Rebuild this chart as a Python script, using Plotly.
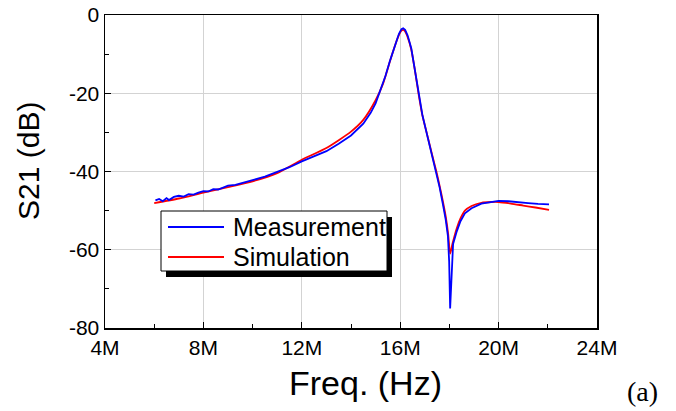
import plotly.graph_objects as go

# Frequency in MHz, S21 in dB
meas_f = [6.05, 6.2, 6.35, 6.5, 6.6, 6.8, 7.0, 7.2, 7.4, 7.6, 7.8, 8.0, 8.2, 8.4, 8.6, 8.8,
          9.0, 9.3, 9.6, 10.0, 10.5, 11.0, 11.5, 12.0, 12.5, 13.0, 13.5, 14.0, 14.5, 14.8,
          15.0, 15.2, 15.4, 15.6, 15.8, 15.95, 16.05, 16.12, 16.2, 16.3, 16.45, 16.6, 16.75,
          16.9, 17.1, 17.3, 17.47, 17.6, 17.74, 17.85, 17.94, 17.99, 18.03, 18.08, 18.15,
          18.3, 18.45, 18.63, 18.9, 19.3, 19.7, 20.0, 20.4, 20.8, 21.2, 21.6, 22.05]
meas_db = [-47.4, -47.0, -47.6, -46.8, -47.3, -46.5, -46.2, -46.4, -45.8, -45.9, -45.4, -45.0,
           -45.1, -44.5, -44.6, -44.1, -43.6, -43.4, -42.8, -42.2, -41.3, -40.2, -38.9, -37.4,
           -36.1, -34.8, -32.9, -30.8, -27.8, -25.0, -22.6, -19.3, -15.6, -11.4, -7.3, -4.8,
           -3.6, -3.4, -3.8, -5.2, -8.5, -14.0, -20.2, -25.5, -30.8, -36.0, -40.3, -44.0,
           -48.5, -52.3, -56.5, -63.0, -75.0, -66.0, -58.5, -55.3, -52.7, -50.7, -49.4,
           -48.2, -47.8, -47.5, -47.6, -47.9, -48.1, -48.3, -48.4]

sim_f = [6.0, 7.0, 8.0, 9.0, 10.0, 11.0, 12.0, 13.0, 14.0, 14.5, 15.0, 15.3, 15.6, 15.8,
         15.95, 16.05, 16.12, 16.2, 16.3, 16.45, 16.6, 16.75, 16.9, 17.1, 17.3, 17.47, 17.6,
         17.74, 17.85, 17.95, 18.03, 18.12, 18.3, 18.45, 18.63, 18.9, 19.3, 19.7, 20.0,
         20.5, 21.0, 21.5, 22.05]
sim_db = [-48.1, -46.9, -45.4, -44.0, -42.5, -40.4, -37.0, -34.0, -29.8, -26.8, -21.8, -17.6,
          -11.5, -7.6, -5.1, -4.0, -3.8, -4.2, -5.6, -8.8, -14.2, -20.3, -25.6, -30.7,
          -35.8, -40.0, -43.6, -47.8, -51.5, -56.0, -61.0, -58.6, -54.5, -52.0, -50.0,
          -48.8, -48.0, -47.8, -47.8, -48.2, -48.7, -49.2, -49.8]

x_ticks = [4, 8, 12, 16, 20, 24]
x_ticktext = ["4M", "8M", "12M", "16M", "20M", "24M"]
y_ticks = [0, -20, -40, -60, -80]
y_ticktext = ["0", "-20", "-40", "-60", "-80"]

series_names = ["Measurement", "Simulation"]
series_colors = ["#0000FF", "#FF0000"]

# plot area in screen pixels
L, R, T, B = 105, 597, 15, 328
W, H = R - L, B - T


def px(x):
    return (x - L) / W


def py(y):
    return (B - y) / H


fig = go.Figure()
fig.add_trace(go.Scatter(x=sim_f, y=sim_db, mode="lines", name=series_names[1],
                         line=dict(color=series_colors[1], width=1.8, shape="spline", smoothing=0.6)))
fig.add_trace(go.Scatter(x=meas_f, y=meas_db, mode="lines", name=series_names[0],
                         line=dict(color=series_colors[0], width=1.8)))

axis_common = dict(showline=True, linecolor="black", linewidth=1.5, mirror=True,
                   ticks="inside", tickcolor="black", ticklen=6, tickwidth=1,
                   showgrid=True, gridcolor="#d3d3d3", gridwidth=1, zeroline=False,
                   automargin=False, ticklabeloverflow="allow",
                   tickfont=dict(family="Arial, Liberation Sans", size=21, color="black"))

fig.update_xaxes(range=[4, 24], tickvals=x_ticks, ticktext=x_ticktext,
                 minor=dict(ticks="inside", dtick=2, tick0=4, ticklen=4, tickcolor="black", showgrid=False),
                 **axis_common)
fig.update_yaxes(range=[-80, 0], tickvals=y_ticks, ticktext=y_ticktext,
                 minor=dict(ticks="inside", dtick=10, tick0=0, ticklen=4, tickcolor="black", showgrid=False),
                 ticklabelstandoff=0, **axis_common)

# hand-drawn legend box with drop shadow
shapes = [
    dict(type="rect", xref="paper", yref="paper", x0=px(166), x1=px(392), y0=py(277), y1=py(217),
         fillcolor="black", line=dict(width=0), layer="above"),
    dict(type="rect", xref="paper", yref="paper", x0=px(161), x1=px(387), y0=py(271), y1=py(211),
         fillcolor="white", line=dict(color="black", width=1), layer="above"),
]
annotations = []
for i, (nm, col) in enumerate(zip(series_names, series_colors)):
    yy = 227 + 30 * i
    shapes.append(dict(type="line", xref="paper", yref="paper", x0=px(168), x1=px(224),
                       y0=py(yy), y1=py(yy), line=dict(color=col, width=1.8), layer="above"))
    annotations.append(dict(text=nm, x=px(231), y=py(yy), xref="paper", yref="paper",
                            xanchor="left", yanchor="middle", showarrow=False,
                            font=dict(size=25, family="Arial, Liberation Sans", color="black")))

annotations += [
    dict(text="Freq. (Hz)", x=px(365), y=py(383), xref="paper", yref="paper", showarrow=False,
         xanchor="center", yanchor="middle", font=dict(size=34, family="Arial, Liberation Sans")),
    dict(text="S21 (dB)", x=px(29), y=py(161), xref="paper", yref="paper", showarrow=False,
         xanchor="center", yanchor="middle", textangle=-90,
         font=dict(size=30, family="Arial, Liberation Sans")),
    dict(text="(a)", x=px(642), y=py(391), xref="paper", yref="paper", showarrow=False,
         xanchor="center", yanchor="middle",
         font=dict(size=28, family="Liberation Serif, Times New Roman")),
]

fig.update_layout(
    width=676, height=411,
    margin=dict(l=L, r=676 - R, t=T, b=411 - B, autoexpand=False),
    paper_bgcolor="white", plot_bgcolor="white",
    font=dict(family="Arial, Liberation Sans", color="black"),
    showlegend=False,
    hovermode=False,
    shapes=shapes,
    annotations=annotations,
)

fig.write_html("out.html", config={"displayModeBar": False, "staticPlot": True},
               post_script="document.body.style.margin='0';document.body.style.overflow='hidden';")
